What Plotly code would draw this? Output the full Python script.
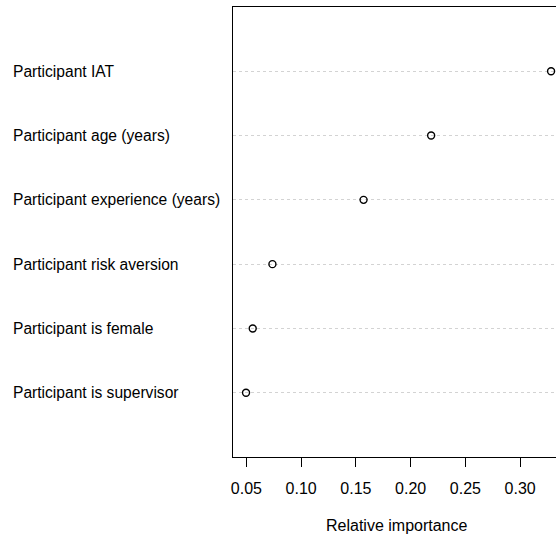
import plotly.graph_objects as go

# relative importance of participant characteristics (dotchart)
labels = ['Participant is supervisor', 'Participant is female', 'Participant risk aversion',
          'Participant experience (years)', 'Participant age (years)', 'Participant IAT']
importance = [0.0497, 0.0558, 0.0738, 0.157, 0.2187, 0.3282]
rows = [1, 2, 3, 4, 5, 6]
tick_vals = [0.05, 0.10, 0.15, 0.20, 0.25, 0.30]

font = dict(family='Liberation Sans, Arial, sans-serif', size=16, color='black')
label_font = dict(family='Liberation Sans, Arial, sans-serif', size=15.6, color='black')

left, top, bottom = 233, 7, 78
plot_w = 556 - left
plot_h = 535 - top - bottom

fig = go.Figure(go.Scatter(x=importance, y=rows, mode='markers',
                           marker=dict(symbol='circle-open', size=7, color='black', line=dict(width=1.4, color='black')),
                           cliponaxis=False, showlegend=False))

fig.update_layout(width=556, height=535, margin=dict(l=left, r=0, t=top, b=bottom),
                  paper_bgcolor='white', plot_bgcolor='white', font=font)

fig.update_xaxes(range=[0.0378, 0.3327], tickvals=tick_vals, tickformat='.2f', ticks='outside', ticklen=9,
                 tickcolor='black', showgrid=False, zeroline=False, showline=True, mirror=True,
                 linecolor='black', linewidth=1, tickfont=font, ticklabelstandoff=8)
fig.update_yaxes(range=[0, 7], tickvals=rows, showticklabels=False, showgrid=True, gridcolor='lightgray',
                 griddash='dot', gridwidth=1, zeroline=False, showline=True, linecolor='black', linewidth=1)

# left aligned row labels, like R's dotchart
for lab, r in zip(labels, rows):
    fig.add_annotation(text=lab, x=(11 - left) / plot_w, xref='paper', y=r, yref='y',
                       xanchor='left', yanchor='middle', showarrow=False, font=label_font)
# x-axis title placed by hand
fig.add_annotation(text='Relative importance', x=(397 - left) / plot_w, xref='paper', y=-68 / plot_h, yref='paper',
                   xanchor='center', yanchor='middle', showarrow=False, font=font)

# no page margin so the figure sits at the window corner
fig.write_html('out.html', config={'displayModeBar': False},
               post_script="document.body.style.margin='0';")
